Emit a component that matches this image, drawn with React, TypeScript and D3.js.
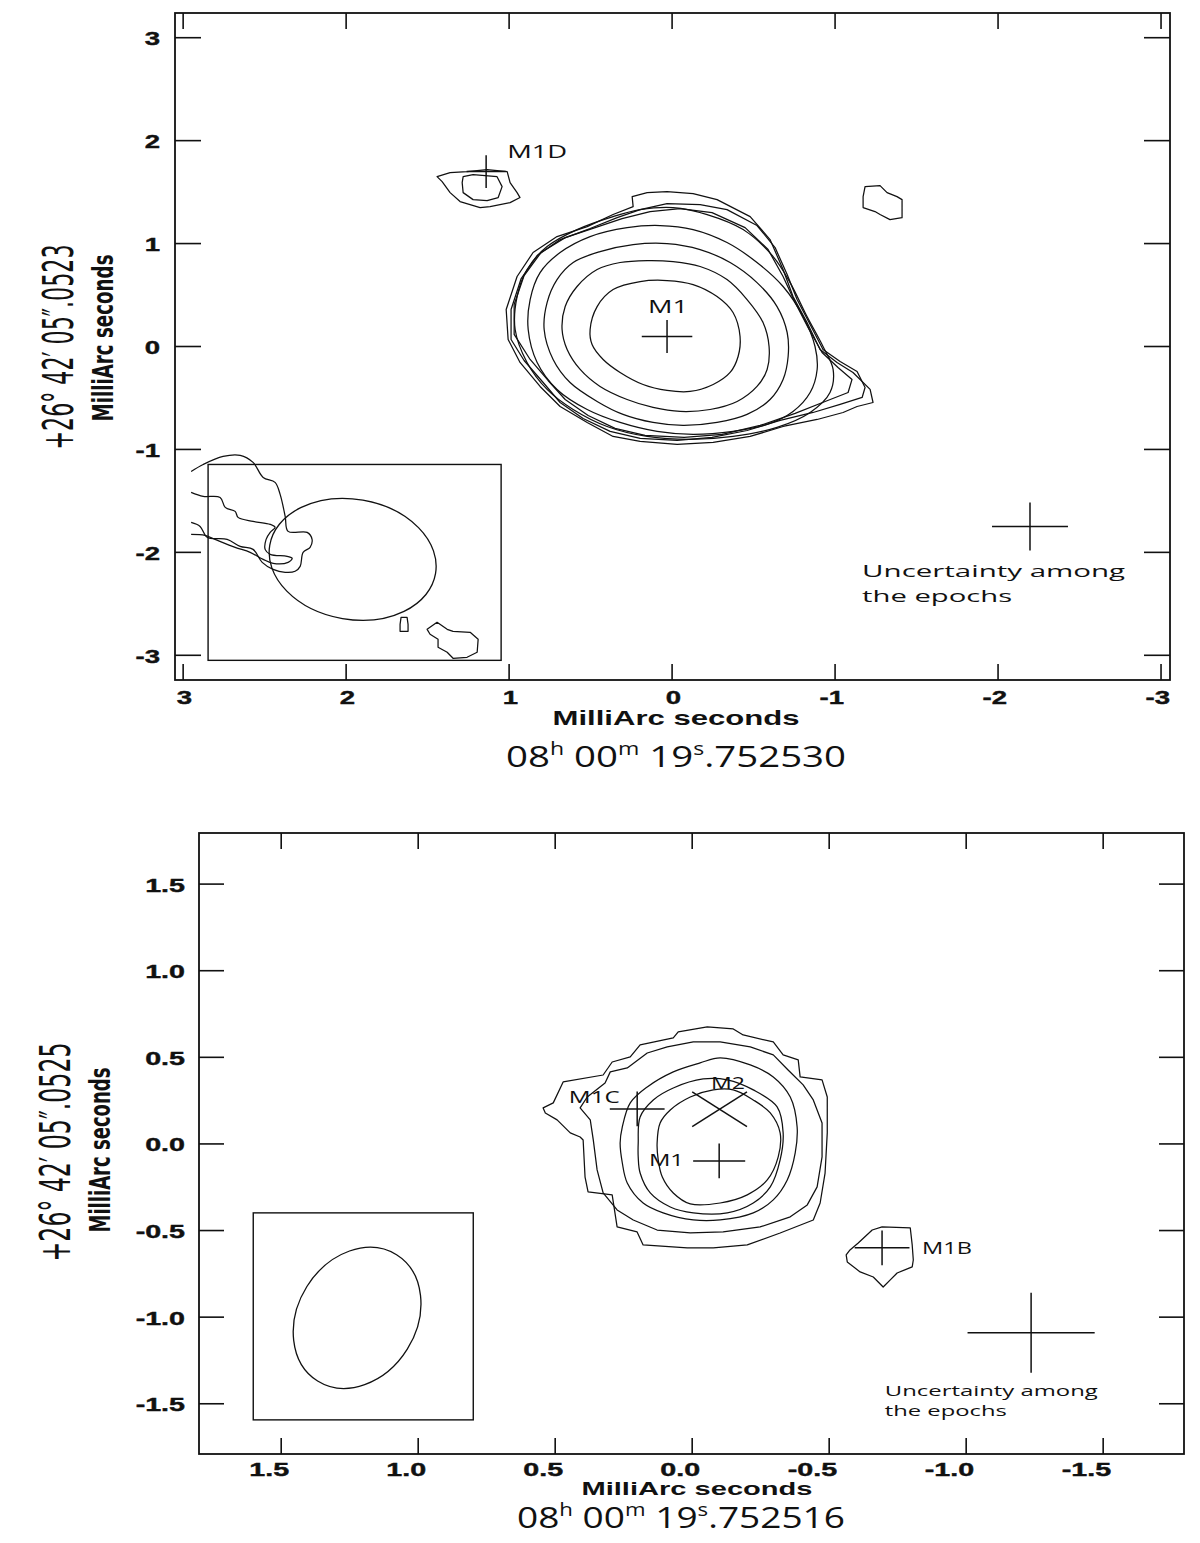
import React from 'react';
import * as d3 from 'd3';

type P = [number, number];

// ---------------- tick values / labels ----------------
const topTicks = [3, 2, 1, 0, -1, -2, -3];
const topTickLabels = ['3', '2', '1', '0', '-1', '-2', '-3'];
const botTicks = [1.5, 1.0, 0.5, 0, -0.5, -1.0, -1.5];
const botTickLabels = ['1.5', '1.0', '0.5', '0.0', '-0.5', '-1.0', '-1.5'];

// ---------------- top panel contours (mas) ----------------
const topSmooth: P[][] = [
  [[0.503,0.165],[0.460,0.388],[0.362,0.553],[0.196,0.631],[0.031,0.641],[-0.129,0.602],[-0.276,0.485],[-0.374,0.330],[-0.417,0.097],[-0.405,-0.097],[-0.356,-0.252],[-0.252,-0.369],[-0.110,-0.437],[0.031,-0.427],[0.178,-0.369],[0.319,-0.252],[0.423,-0.126],[0.491,0.019]],
  [[0.675,0.165],[0.656,0.388],[0.583,0.583],[0.460,0.748],[0.319,0.816],[0.153,0.835],[-0.006,0.825],[-0.172,0.777],[-0.337,0.650],[-0.460,0.456],[-0.558,0.233],[-0.595,0],[-0.583,-0.223],[-0.521,-0.388],[-0.399,-0.534],[-0.233,-0.612],[-0.049,-0.631],[0.117,-0.592],[0.276,-0.515],[0.442,-0.388],[0.564,-0.223],[0.644,-0.029]],
  [[0.785,0.165],[0.767,0.427],[0.706,0.650],[0.607,0.816],[0.442,0.922],[0.239,0.990],[0.031,1.000],[-0.172,0.942],[-0.356,0.816],[-0.521,0.621],[-0.644,0.388],[-0.706,0.136],[-0.712,-0.097],[-0.681,-0.320],[-0.601,-0.515],[-0.460,-0.660],[-0.276,-0.738],[-0.067,-0.767],[0.117,-0.738],[0.301,-0.660],[0.460,-0.534],[0.626,-0.350],[0.730,-0.126]],
  [[0.883,0.165],[0.871,0.456],[0.810,0.718],[0.687,0.913],[0.503,1.068],[0.276,1.155],[0.074,1.175],[-0.129,1.136],[-0.337,1.010],[-0.521,0.816],[-0.681,0.583],[-0.804,0.291],[-0.877,0],[-0.890,-0.223],[-0.847,-0.447],[-0.742,-0.631],[-0.583,-0.757],[-0.374,-0.825],[-0.129,-0.854],[0.092,-0.825],[0.319,-0.738],[0.521,-0.612],[0.706,-0.417],[0.828,-0.155]],
  [[0.963,0.165],[0.951,0.485],[0.890,0.748],[0.767,0.971],[0.583,1.136],[0.362,1.262],[0.196,1.330],[-0.006,1.350],[-0.215,1.282],[-0.436,1.136],[-0.620,0.874],[-0.724,0.621],[-0.828,0.291],[-0.926,0],[-0.988,-0.223],[-0.969,-0.447],[-0.847,-0.641],[-0.644,-0.786],[-0.374,-0.874],[-0.110,-0.903],[0.153,-0.874],[0.399,-0.777],[0.607,-0.612],[0.767,-0.417],[0.890,-0.155]],
];

const topRough: P[][] = [
  [[0.969,0.117],[0.969,0.408],[0.908,0.689],[0.804,0.913],[0.656,1.058],[0.472,1.155],[0.307,1.243],[0.135,1.311],[-0.049,1.340],[-0.245,1.301],[-0.448,1.155],[-0.589,0.942],[-0.681,0.680],[-0.755,0.427],[-0.834,0.184],[-0.920,-0.058],[-1.018,-0.204],[-1.104,-0.320],[-1.080,-0.447],[-0.939,-0.534],[-0.755,-0.650],[-0.540,-0.767],[-0.307,-0.854],[-0.074,-0.883],[0.166,-0.864],[0.350,-0.796],[0.515,-0.670],[0.656,-0.515],[0.761,-0.330],[0.871,-0.126]],
  [[0.988,0.068],[0.988,0.359],[0.926,0.660],[0.828,0.883],[0.687,1.039],[0.503,1.146],[0.337,1.252],[0.196,1.330],[0.031,1.388],[-0.172,1.379],[-0.337,1.330],[-0.521,1.175],[-0.632,0.961],[-0.706,0.699],[-0.767,0.456],[-0.847,0.214],[-0.926,-0.029],[-1.031,-0.146],[-1.135,-0.243],[-1.184,-0.398],[-1.166,-0.495],[-1.031,-0.563],[-0.865,-0.641],[-0.663,-0.718],[-0.460,-0.816],[-0.245,-0.883],[-0.031,-0.913],[0.196,-0.893],[0.380,-0.825],[0.546,-0.699],[0.687,-0.544],[0.791,-0.350],[0.908,-0.136]],
  [[1.006,0.068],[1.018,0.359],[0.951,0.680],[0.853,0.913],[0.706,1.068],[0.521,1.165],[0.362,1.282],[0.239,1.359],[0.245,1.456],[0.153,1.495],[0.031,1.505],[-0.129,1.485],[-0.276,1.427],[-0.479,1.262],[-0.601,1.039],[-0.681,0.748],[-0.742,0.485],[-0.828,0.233],[-0.908,-0.029],[-1.012,-0.155],[-1.110,-0.252],[-1.215,-0.417],[-1.233,-0.544],[-1.135,-0.583],[-1.049,-0.641],[-0.890,-0.709],[-0.681,-0.777],[-0.479,-0.874],[-0.252,-0.932],[-0.031,-0.951],[0.196,-0.922],[0.362,-0.874],[0.521,-0.738],[0.687,-0.583],[0.810,-0.388],[0.933,-0.155]],
  // M1D outer / inner
  [[1.442,1.650],[1.362,1.689],[1.258,1.699],[1.135,1.718],[1.012,1.699],[0.994,1.592],[0.951,1.495],[0.933,1.447],[0.994,1.398],[1.117,1.359],[1.178,1.350],[1.301,1.408],[1.362,1.495],[1.411,1.602]],
  [[1.282,1.650],[1.221,1.670],[1.074,1.650],[1.043,1.553],[1.067,1.447],[1.135,1.417],[1.221,1.427],[1.282,1.495],[1.288,1.592]],
  // small blob at right
  [[-1.184,1.553],[-1.276,1.563],[-1.319,1.495],[-1.380,1.456],[-1.411,1.427],[-1.411,1.252],[-1.337,1.233],[-1.276,1.282],[-1.245,1.311],[-1.172,1.350],[-1.172,1.456]],
  // small oval & blob near beam box
  [[1.663,-2.631],[1.626,-2.631],[1.620,-2.699],[1.620,-2.767],[1.669,-2.767],[1.669,-2.699]],
  [[1.503,-2.748],[1.442,-2.680],[1.380,-2.748],[1.344,-2.767],[1.239,-2.777],[1.190,-2.845],[1.196,-2.971],[1.258,-3.019],[1.344,-3.029],[1.380,-2.971],[1.436,-2.922],[1.436,-2.845],[1.485,-2.796]],
];

const topOpen: P[][] = [
  [[2.951,-1.214],[2.877,-1.146],[2.755,-1.068],[2.650,-1.058],[2.571,-1.126],[2.509,-1.272],[2.436,-1.320],[2.405,-1.437],[2.374,-1.650],[2.356,-1.796],[2.239,-1.806],[2.209,-1.874],[2.221,-1.951],[2.264,-2.000],[2.282,-2.136],[2.313,-2.184],[2.374,-2.194],[2.448,-2.165],[2.515,-2.097],[2.571,-1.971],[2.650,-1.942],[2.730,-1.874],[2.853,-1.854],[2.896,-1.748],[2.951,-1.709]],
  [[2.951,-1.417],[2.877,-1.456],[2.773,-1.466],[2.742,-1.563],[2.681,-1.602],[2.663,-1.660],[2.571,-1.699],[2.466,-1.728],[2.436,-1.757],[2.466,-1.806],[2.491,-1.874],[2.497,-1.971],[2.466,-2.019],[2.362,-2.039],[2.331,-2.058],[2.356,-2.097],[2.448,-2.107],[2.509,-2.068],[2.589,-2.000],[2.681,-1.951],[2.804,-1.874],[2.865,-1.835],[2.951,-1.825]],
];

// ---------------- bottom panel contours (mas) ----------------
const botSmooth: P[][] = [
  [[0.263,0.005],[0.255,0.098],[0.226,0.237],[0.164,0.329],[0.069,0.416],[-0.029,0.468],[-0.102,0.497],[-0.212,0.456],[-0.296,0.387],[-0.358,0.271],[-0.383,0.098],[-0.376,-0.052],[-0.347,-0.208],[-0.296,-0.323],[-0.223,-0.398],[-0.102,-0.439],[-0.004,-0.439],[0.106,-0.398],[0.179,-0.341],[0.237,-0.225],[0.255,-0.110]],
  [[0.197,0.005],[0.190,0.156],[0.142,0.254],[0.069,0.323],[-0.040,0.375],[-0.128,0.370],[-0.223,0.312],[-0.310,0.214],[-0.332,0.064],[-0.321,-0.092],[-0.285,-0.248],[-0.223,-0.341],[-0.128,-0.398],[-0.004,-0.398],[0.080,-0.364],[0.153,-0.283],[0.190,-0.168],[0.197,-0.075]],
  [[0.128,0.005],[0.117,0.121],[0.080,0.196],[0.007,0.271],[-0.077,0.312],[-0.150,0.312],[-0.223,0.254],[-0.285,0.179],[-0.321,0.064],[-0.314,-0.075],[-0.274,-0.208],[-0.201,-0.294],[-0.102,-0.341],[0.007,-0.346],[0.069,-0.283],[0.109,-0.191],[0.124,-0.092]],
];

const botRough: P[][] = [
  [[0.544,0.208],[0.507,0.237],[0.471,0.358],[0.325,0.398],[0.292,0.473],[0.226,0.502],[0.190,0.572],[0.069,0.612],[0.051,0.647],[-0.055,0.676],[-0.150,0.664],[-0.186,0.629],[-0.296,0.589],[-0.332,0.514],[-0.387,0.485],[-0.394,0.387],[-0.474,0.370],[-0.493,0.271],[-0.493,0.064],[-0.485,-0.168],[-0.467,-0.341],[-0.442,-0.439],[-0.321,-0.514],[-0.201,-0.583],[-0.077,-0.600],[0.018,-0.600],[0.179,-0.583],[0.201,-0.508],[0.274,-0.479],[0.292,-0.294],[0.380,-0.277],[0.391,-0.191],[0.398,0.023],[0.409,0.040],[0.445,0.064],[0.493,0.139],[0.536,0.179]],
  [[0.409,0.208],[0.383,0.271],[0.318,0.352],[0.299,0.416],[0.237,0.439],[0.164,0.525],[0.091,0.560],[-0.004,0.589],[-0.102,0.589],[-0.212,0.560],[-0.296,0.514],[-0.350,0.427],[-0.405,0.341],[-0.442,0.254],[-0.474,0.121],[-0.474,-0.075],[-0.456,-0.248],[-0.420,-0.352],[-0.358,-0.421],[-0.248,-0.479],[-0.113,-0.508],[0.007,-0.514],[0.128,-0.497],[0.215,-0.439],[0.274,-0.381],[0.325,-0.283],[0.347,-0.150],[0.361,0.023],[0.372,0.139]],
  // M1B
  [[-0.576,-0.612],[-0.606,-0.572],[-0.657,-0.497],[-0.693,-0.479],[-0.796,-0.485],[-0.803,-0.583],[-0.807,-0.670],[-0.803,-0.710],[-0.748,-0.745],[-0.723,-0.785],[-0.697,-0.826],[-0.661,-0.768],[-0.613,-0.739],[-0.566,-0.681],[-0.562,-0.641]],
];

// ---------------- markers (mas) ----------------
type Mark = { cx: number; cy: number; hx: number; hy: number; kind: '+' | 'x' };
const topMarks: Mark[] = [
  { cx: 0.031, cy: 0.097, hx: 0.155, hy: 0.16, kind: '+' },
  { cx: 1.141, cy: 1.699, hx: 0.12, hy: 0.16, kind: '+' },
  { cx: -2.196, cy: -1.748, hx: 0.233, hy: 0.233, kind: '+' },
];
const botMarks: Mark[] = [
  { cx: 0.2007, cy: 0.202, hx: 0.1, hy: 0.1, kind: '+' },
  { cx: -0.1, cy: 0.2, hx: 0.1, hy: 0.1, kind: 'x' },
  { cx: -0.0985, cy: -0.098, hx: 0.095, hy: 0.1, kind: '+' },
  { cx: -0.693, cy: -0.6, hx: 0.1, hy: 0.1, kind: '+' },
  { cx: -1.237, cy: -1.09, hx: 0.232, hy: 0.231, kind: '+' },
];

// ---------------- labels (mas) ----------------
type Lab = { t: string; x: number; y: number; len: number; size: number };
const topLabels: Lab[] = [
  { t: 'M1', x: 0.147, y: 0.330, len: 40, size: 18 },
  { t: 'M1D', x: 1.012, y: 1.835, len: 60, size: 18 },
  { t: 'Uncertainty among', x: -1.166, y: -2.243, len: 263, size: 17 },
  { t: 'the epochs', x: -1.166, y: -2.485, len: 150, size: 17 },
];
const botLabels: Lab[] = [
  { t: 'M1C', x: 0.450, y: 0.236, len: 51, size: 16 },
  { t: 'M2', x: -0.069, y: 0.317, len: 34, size: 16 },
  { t: 'M1', x: 0.158, y: -0.128, len: 35, size: 16 },
  { t: 'M1B', x: -0.839, y: -0.636, len: 50, size: 16 },
  { t: 'Uncertainty among', x: -0.703, y: -1.455, len: 213, size: 15 },
  { t: 'the epochs', x: -0.703, y: -1.571, len: 122, size: 15 },
];

// beams & boxes (mas)
const topBeam = { cx: 1.96, cy: -2.068, rx: 0.516, ry: 0.584, angle: 9.8 };
const botBeam = { cx: 1.223, cy: -1.004, rx: 0.216, ry: 0.43, angle: 32 };
const topBox = { x0: 2.847, x1: 1.049, y0: -1.146, y1: -3.049 };
const botBox = { x0: 1.602, x1: 0.799, y0: -0.398, y1: -1.593 };

const decTop = '+26\u00b0 42\u2032 05\u2033.0523';
const decBot = '+26\u00b0 42\u2032 05\u2033.0525';

// ---------------- layout ----------------
const panels = [
  {
    frame: { x0: 175, x1: 1170, y0: 13, y1: 680 },
    xDomain: [3.05, -3.055], yDomain: [3.24, -3.24],
    ticks: topTicks, labels: topTickLabels,
    xTickLen: 16, yTickLen: 26, tickFont: 19, tickScale: 1.45,
    yLabRight: 160, xLabBase: 704, xLabOff: 9,
    smooth: topSmooth, rough: topRough, open: topOpen, marks: topMarks, texts: topLabels,
    beam: topBeam, box: topBox,
    xTitle: { x: 676, y: 725, len: 247, size: 21 },
    sub: { x: 676, y: 767, len: 340, size: 30, ra: '752530' },
    dec: { t: decTop, x: 73, y: 347, len: 205, size: 42 },
    yTitle: { x: 113, y: 338, len: 167, size: 29 },
  },
  {
    frame: { x0: 199, x1: 1184, y0: 833, y1: 1454 },
    xDomain: [1.8, -1.795], yDomain: [1.795, -1.79],
    ticks: botTicks, labels: botTickLabels,
    xTickLen: 16, yTickLen: 25, tickFont: 18.5, tickScale: 1.55,
    yLabRight: 185, xLabBase: 1476, xLabOff: 8,
    smooth: botSmooth, rough: botRough, open: [] as P[][], marks: botMarks, texts: botLabels,
    beam: botBeam, box: botBox,
    xTitle: { x: 697, y: 1495, len: 231, size: 19 },
    sub: { x: 681, y: 1528, len: 328, size: 30, ra: '752516' },
    dec: { t: decBot, x: 70, y: 1152, len: 219, size: 42 },
    yTitle: { x: 110, y: 1150, len: 165, size: 29 },
  },
];

const SANS = '"Liberation Sans", Arial, sans-serif';
const NARROW = '"Liberation Sans Narrow", "Arial Narrow", "DejaVu Sans Condensed", "Liberation Sans", sans-serif';
const BODY = '"Open Sans", "Noto Sans", sans-serif';
const INK = '#111';

function Panel({ p }: { p: (typeof panels)[number] }) {
  const { frame } = p;
  const x = d3.scaleLinear().domain(p.xDomain).range([frame.x0, frame.x1]);
  const y = d3.scaleLinear().domain(p.yDomain).range([frame.y0, frame.y1]);
  const smoothLine = d3.line<P>().x(d => x(d[0])).y(d => y(d[1])).curve(d3.curveCatmullRomClosed.alpha(0.5));
  const roughLine = d3.line<P>().x(d => x(d[0])).y(d => y(d[1])).curve(d3.curveLinearClosed);
  const openLine = d3.line<P>().x(d => x(d[0])).y(d => y(d[1])).curve(d3.curveCatmullRom.alpha(0.5));
  const b = p.beam;
  const bcx = x(b.cx), bcy = y(b.cy);
  return (
    <g>
      <rect x={frame.x0} y={frame.y0} width={frame.x1 - frame.x0} height={frame.y1 - frame.y0}
        fill="none" stroke={INK} strokeWidth={1.8} />
      {p.ticks.map((t, i) => (
        <g key={'t' + i} stroke={INK} strokeWidth={1.6}>
          <line x1={x(t)} x2={x(t)} y1={frame.y1} y2={frame.y1 - p.xTickLen} />
          <line x1={x(t)} x2={x(t)} y1={frame.y0} y2={frame.y0 + p.xTickLen} />
          <line x1={frame.x0} x2={frame.x0 + p.yTickLen} y1={y(t)} y2={y(t)} />
          <line x1={frame.x1} x2={frame.x1 - p.yTickLen} y1={y(t)} y2={y(t)} />
        </g>
      ))}
      {p.ticks.map((t, i) => (
        <g key={'l' + i} fontFamily={SANS} fontWeight="bold" fontSize={p.tickFont} fill={INK} stroke={INK} strokeWidth={0.4}>
          <text transform={`translate(${p.yLabRight},${y(t) + 7.5}) scale(${p.tickScale},1)`} textAnchor="end">{p.labels[i]}</text>
          <text transform={`translate(${x(t) + p.xLabOff},${p.xLabBase}) scale(${p.tickScale},1)`} textAnchor="end">{p.labels[i]}</text>
        </g>
      ))}
      <g fill="none" stroke={INK} strokeWidth={1.25} strokeLinejoin="round">
        {p.smooth.map((c, i) => <path key={'s' + i} d={smoothLine(c) || ''} />)}
        {p.rough.map((c, i) => <path key={'r' + i} d={roughLine(c) || ''} />)}
        {p.open.map((c, i) => <path key={'o' + i} d={openLine(c) || ''} />)}
      </g>
      <rect x={x(p.box.x0)} y={y(p.box.y0)} width={x(p.box.x1) - x(p.box.x0)} height={y(p.box.y1) - y(p.box.y0)}
        fill="none" stroke={INK} strokeWidth={1.4} />
      <ellipse cx={bcx} cy={bcy} rx={Math.abs(x(b.cx + b.rx) - bcx)} ry={Math.abs(y(b.cy + b.ry) - bcy)}
        transform={`rotate(${b.angle},${bcx},${bcy})`} fill="none" stroke={INK} strokeWidth={1.3} />
      <g stroke={INK} strokeWidth={1.5}>
        {p.marks.map((m, i) => m.kind === '+' ? (
          <g key={'m' + i}>
            <line x1={x(m.cx - m.hx)} x2={x(m.cx + m.hx)} y1={y(m.cy)} y2={y(m.cy)} />
            <line x1={x(m.cx)} x2={x(m.cx)} y1={y(m.cy - m.hy)} y2={y(m.cy + m.hy)} />
          </g>
        ) : (
          <g key={'m' + i}>
            <line x1={x(m.cx - m.hx)} x2={x(m.cx + m.hx)} y1={y(m.cy - m.hy)} y2={y(m.cy + m.hy)} />
            <line x1={x(m.cx - m.hx)} x2={x(m.cx + m.hx)} y1={y(m.cy + m.hy)} y2={y(m.cy - m.hy)} />
          </g>
        ))}
      </g>
      {p.texts.map((l, i) => (
        <text key={'a' + i} x={x(l.x)} y={y(l.y)} fontFamily={BODY} fontSize={l.size} fill={INK}
          textLength={l.len} lengthAdjust="spacingAndGlyphs">{l.t}</text>
      ))}
      <text x={p.xTitle.x} y={p.xTitle.y} textAnchor="middle" fontFamily={SANS} fontWeight="bold"
        fontSize={p.xTitle.size} fill={INK} textLength={p.xTitle.len} lengthAdjust="spacingAndGlyphs">MilliArc seconds</text>
      <text x={p.sub.x} y={p.sub.y} textAnchor="middle" fontFamily={BODY} fontSize={p.sub.size} fill={INK}
        textLength={p.sub.len} lengthAdjust="spacingAndGlyphs">
        08<tspan fontSize={18} dy={-12}>h</tspan><tspan dy={12}> 00</tspan><tspan fontSize={18} dy={-12}>m</tspan><tspan dy={12}> 19</tspan><tspan fontSize={18} dy={-12}>s</tspan><tspan dy={12}>.{p.sub.ra}</tspan>
      </text>
      <text transform={`translate(${p.dec.x},${p.dec.y}) rotate(-90)`} textAnchor="middle" fontFamily={NARROW}
        fontSize={p.dec.size} fill={INK} textLength={p.dec.len} lengthAdjust="spacingAndGlyphs">{p.dec.t}</text>
      <text transform={`translate(${p.yTitle.x},${p.yTitle.y}) rotate(-90)`} textAnchor="middle" fontFamily={NARROW}
        fontWeight="bold" fontSize={p.yTitle.size} fill={INK} textLength={p.yTitle.len} lengthAdjust="spacingAndGlyphs">MilliArc seconds</text>
    </g>
  );
}

export default function App() {
  return (
    <div style={{ position: 'absolute', left: 0, top: 0, width: 1200, height: 1543, background: '#fff' }}>
      <svg width={1200} height={1543} viewBox="0 0 1200 1543" style={{ display: 'block' }}>
        <rect width={1200} height={1543} fill="#fff" />
        {panels.map((p, i) => <Panel key={i} p={p} />)}
      </svg>
    </div>
  );
}
